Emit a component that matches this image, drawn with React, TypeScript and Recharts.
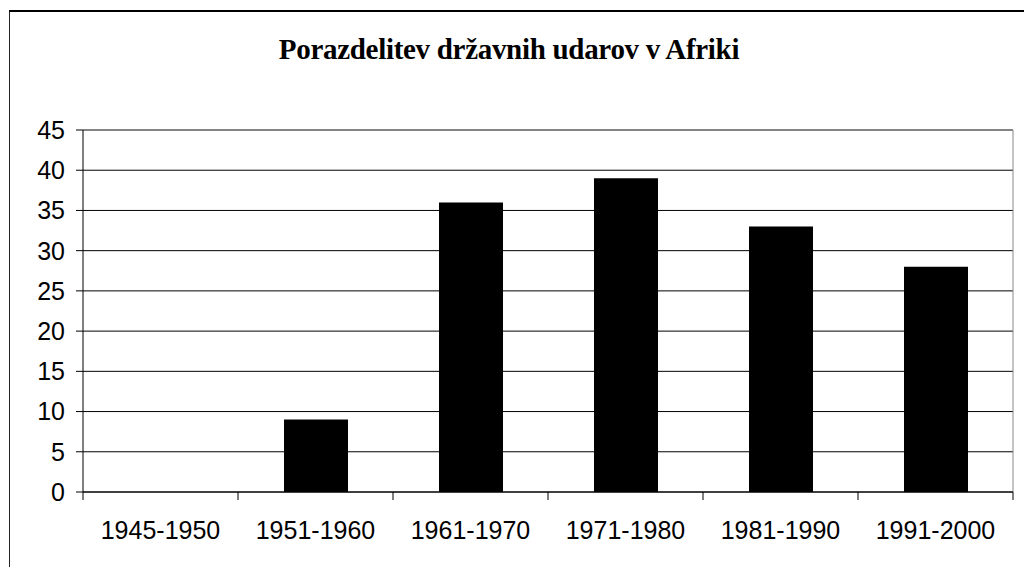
import React from 'react';
import { BarChart, Bar, XAxis, YAxis, CartesianGrid } from 'recharts';

const periods = ['1945-1950', '1951-1960', '1961-1970', '1971-1980', '1981-1990', '1991-2000'];
const coups = [0, 9, 36, 39, 33, 28];
const yTicks = [0, 5, 10, 15, 20, 25, 30, 35, 40, 45];

const title = 'Porazdelitev državnih udarov v Afriki';

const data = periods.map((p, i) => ({ period: p, value: coups[i] }));

const FONT = 'Liberation Sans, Arial, sans-serif';
const FONT_SIZE = 25;
const X_TICK_SIZE = 8;
const X_TICK_MARGIN = 21;

// category label + tick mark on the left boundary of each category (and the right one for the last)
const CategoryTick = (props: any) => {
  const { x, y, payload, index } = props;
  const half = payload.offset || 0;
  const axisY = y - X_TICK_SIZE - X_TICK_MARGIN;
  return (
    <g>
      <line x1={x - half} x2={x - half} y1={axisY} y2={axisY + X_TICK_SIZE} stroke="#000" />
      {index === periods.length - 1 && (
        <line x1={x + half} x2={x + half} y1={axisY} y2={axisY + X_TICK_SIZE} stroke="#000" />
      )}
      <text
        x={x}
        y={y}
        dy="0.71em"
        textAnchor="middle"
        fontFamily={FONT}
        fontSize={FONT_SIZE}
        fill="#000"
      >
        {payload.value}
      </text>
    </g>
  );
};

export default function App() {
  return (
    <div
      style={{
        position: 'fixed',
        left: 0,
        top: 0,
        width: 1024,
        height: 567,
        overflow: 'hidden',
        background: '#fff',
      }}
    >
      {/* outer chart frame, cut off at right and bottom like the original */}
      <div
        style={{
          position: 'absolute',
          left: 9,
          top: 10,
          width: 1100,
          height: 600,
          borderTop: '2px solid #000',
          borderLeft: '1px solid #222',
        }}
      />
      <div
        style={{
          position: 'absolute',
          left: 0,
          top: 35,
          width: 1018,
          textAlign: 'center',
          fontFamily: 'Liberation Serif, Times New Roman, serif',
          fontWeight: 700,
          fontSize: 29,
          lineHeight: '29px',
          letterSpacing: -0.3,
          color: '#000',
          whiteSpace: 'nowrap',
        }}
      >
        {title}
      </div>
      <div style={{ position: 'absolute', left: 0, top: 0 }}>
        <BarChart
          width={1024}
          height={567}
          data={data}
          margin={{ top: 130, right: 11, bottom: 35, left: 0 }}
        >
          <CartesianGrid vertical={false} stroke="#000" />
          {/* grey plot-area border on top and right */}
          <CartesianGrid
            stroke="#888"
            horizontalCoordinatesGenerator={(p: any) => (p && p.offset ? [p.offset.top] : [])}
            verticalCoordinatesGenerator={(p: any) =>
              p && p.offset ? [p.offset.left + p.offset.width] : []
            }
          />
          <XAxis
            dataKey="period"
            height={40}
            axisLine={{ stroke: '#000' }}
            tickLine={false}
            tickSize={X_TICK_SIZE}
            tickMargin={X_TICK_MARGIN}
            tick={<CategoryTick />}
            interval={0}
          />
          <YAxis
            width={83}
            domain={[0, 45]}
            ticks={yTicks}
            interval={0}
            axisLine={{ stroke: '#000' }}
            tickLine={{ stroke: '#000' }}
            tickSize={7}
            tickMargin={11}
            tick={{ fontFamily: FONT, fontSize: FONT_SIZE, fill: '#000' }}
          />
          <Bar dataKey="value" fill="#000" barSize={64} isAnimationActive={false} />
        </BarChart>
      </div>
    </div>
  );
}
